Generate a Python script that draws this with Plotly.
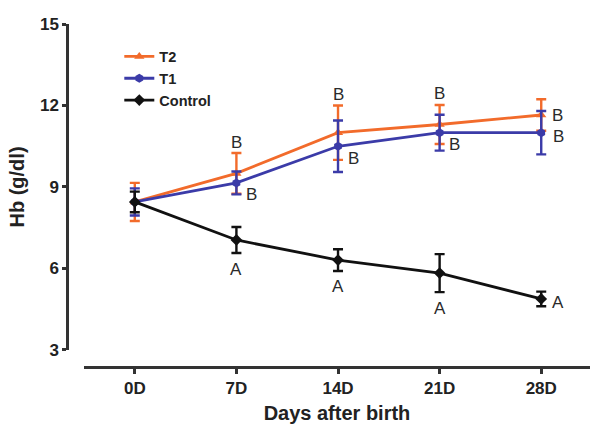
import plotly.graph_objects as go

days = ["0D", "7D", "14D", "21D", "28D"]

t2_mean = [8.45, 9.5, 11.0, 11.3, 11.65]
t2_err = [0.7, 0.75, 1.0, 0.72, 0.58]
t1_mean = [8.45, 9.15, 10.5, 11.0, 11.0]
t1_err = [0.5, 0.42, 0.95, 0.66, 0.8]
ctrl_mean = [8.45, 7.05, 6.31, 5.83, 4.88]
ctrl_err = [0.38, 0.48, 0.4, 0.7, 0.27]

y_ticks = [3, 6, 9, 12, 15]

# significance letters: (series, day index, letter, placement)
letters = [
    ("T2", 1, "B", "above"), ("T1", 1, "B", "belowright"),
    ("T2", 2, "B", "above"), ("T1", 2, "B", "belowright"),
    ("T2", 3, "B", "above"), ("T1", 3, "B", "belowright"),
    ("T2", 4, "B", "right"), ("T1", 4, "B", "rightlow"),
    ("C", 1, "A", "below"), ("C", 2, "A", "below"),
    ("C", 3, "A", "below"), ("C", 4, "A", "rightlow"),
]

ORANGE = "#F26B2B"
BLUE = "#3B3BA8"
BLACK = "#111111"
FONT = "Liberation Sans, Arial, sans-serif"

fig = go.Figure()
series = [
    ("T2", t2_mean, t2_err, ORANGE, "triangle-up"),
    ("T1", t1_mean, t1_err, BLUE, "hexagon"),
    ("Control", ctrl_mean, ctrl_err, BLACK, "diamond"),
]
for name, m, e, c, sym in series:
    fig.add_trace(go.Scatter(
        x=days, y=m, name=name, mode="lines+markers",
        line=dict(color=c, width=2.8),
        marker=dict(color=c, size=9, symbol=sym),
        error_y=dict(type="data", array=e, visible=True, color=c,
                     thickness=2.4, width=5),
    ))

data = {"T2": (t2_mean, t2_err), "T1": (t1_mean, t1_err), "C": (ctrl_mean, ctrl_err)}
for s, i, txt, place in letters:
    m, e = data[s]
    if place == "above":
        y, xs, ys = m[i] + e[i], 0, 11
    elif place == "below":
        y, xs, ys = m[i] - e[i], 0, -16
    elif place == "belowright":
        y, xs, ys = m[i], 15, -12
    elif place == "rightlow":
        y, xs, ys = m[i], 17, -4
    else:
        y, xs, ys = m[i], 16, 0
    fig.add_annotation(x=days[i], y=y, text=txt, showarrow=False,
                       xshift=xs, yshift=ys,
                       font=dict(family=FONT, size=17, color="#2a2a2a"))

fig.update_layout(
    width=590, height=424,
    margin=dict(l=67, r=0, t=24, b=57),
    paper_bgcolor="white", plot_bgcolor="white",
    font=dict(family=FONT, color="#222222"),
    showlegend=True,
    legend=dict(x=0.1, y=0.952, xanchor="left", yanchor="top",
                bgcolor="rgba(0,0,0,0)", tracegroupgap=0,
                font=dict(family=FONT, size=14.5, weight="bold", color="#222222"),
                itemwidth=30),
    xaxis=dict(
        domain=[0.0325, 1], range=[-0.5, 4.48], anchor="free", position=0,
        automargin=False,
        showline=True, linecolor="#333333", linewidth=2.5,
        ticks="outside", ticklen=5, tickwidth=2.5, tickcolor="#333333",
        showgrid=False, zeroline=False,
        tickfont=dict(family=FONT, size=17, weight="bold", color="#222222"),
        title=dict(text="Days after birth", standoff=8,
                   font=dict(family=FONT, size=20, weight="bold", color="#222222")),
    ),
    yaxis=dict(
        domain=[0.0496, 1], range=[3, 15], anchor="free", position=0,
        automargin=False,
        tickvals=y_ticks,
        showline=True, linecolor="#333333", linewidth=2.5,
        ticks="outside", ticklen=4, tickwidth=2.5, tickcolor="#333333",
        showgrid=False, zeroline=False,
        tickfont=dict(family=FONT, size=17, weight="bold", color="#222222"),
        title=dict(text="Hb (g/dl)", standoff=8,
                   font=dict(family=FONT, size=20, weight="bold", color="#222222")),
    ),
)

fig.write_html(
    "out.html",
    config={"displayModeBar": False},
    post_script="document.body.style.margin='0';document.body.style.overflow='hidden';",
)
